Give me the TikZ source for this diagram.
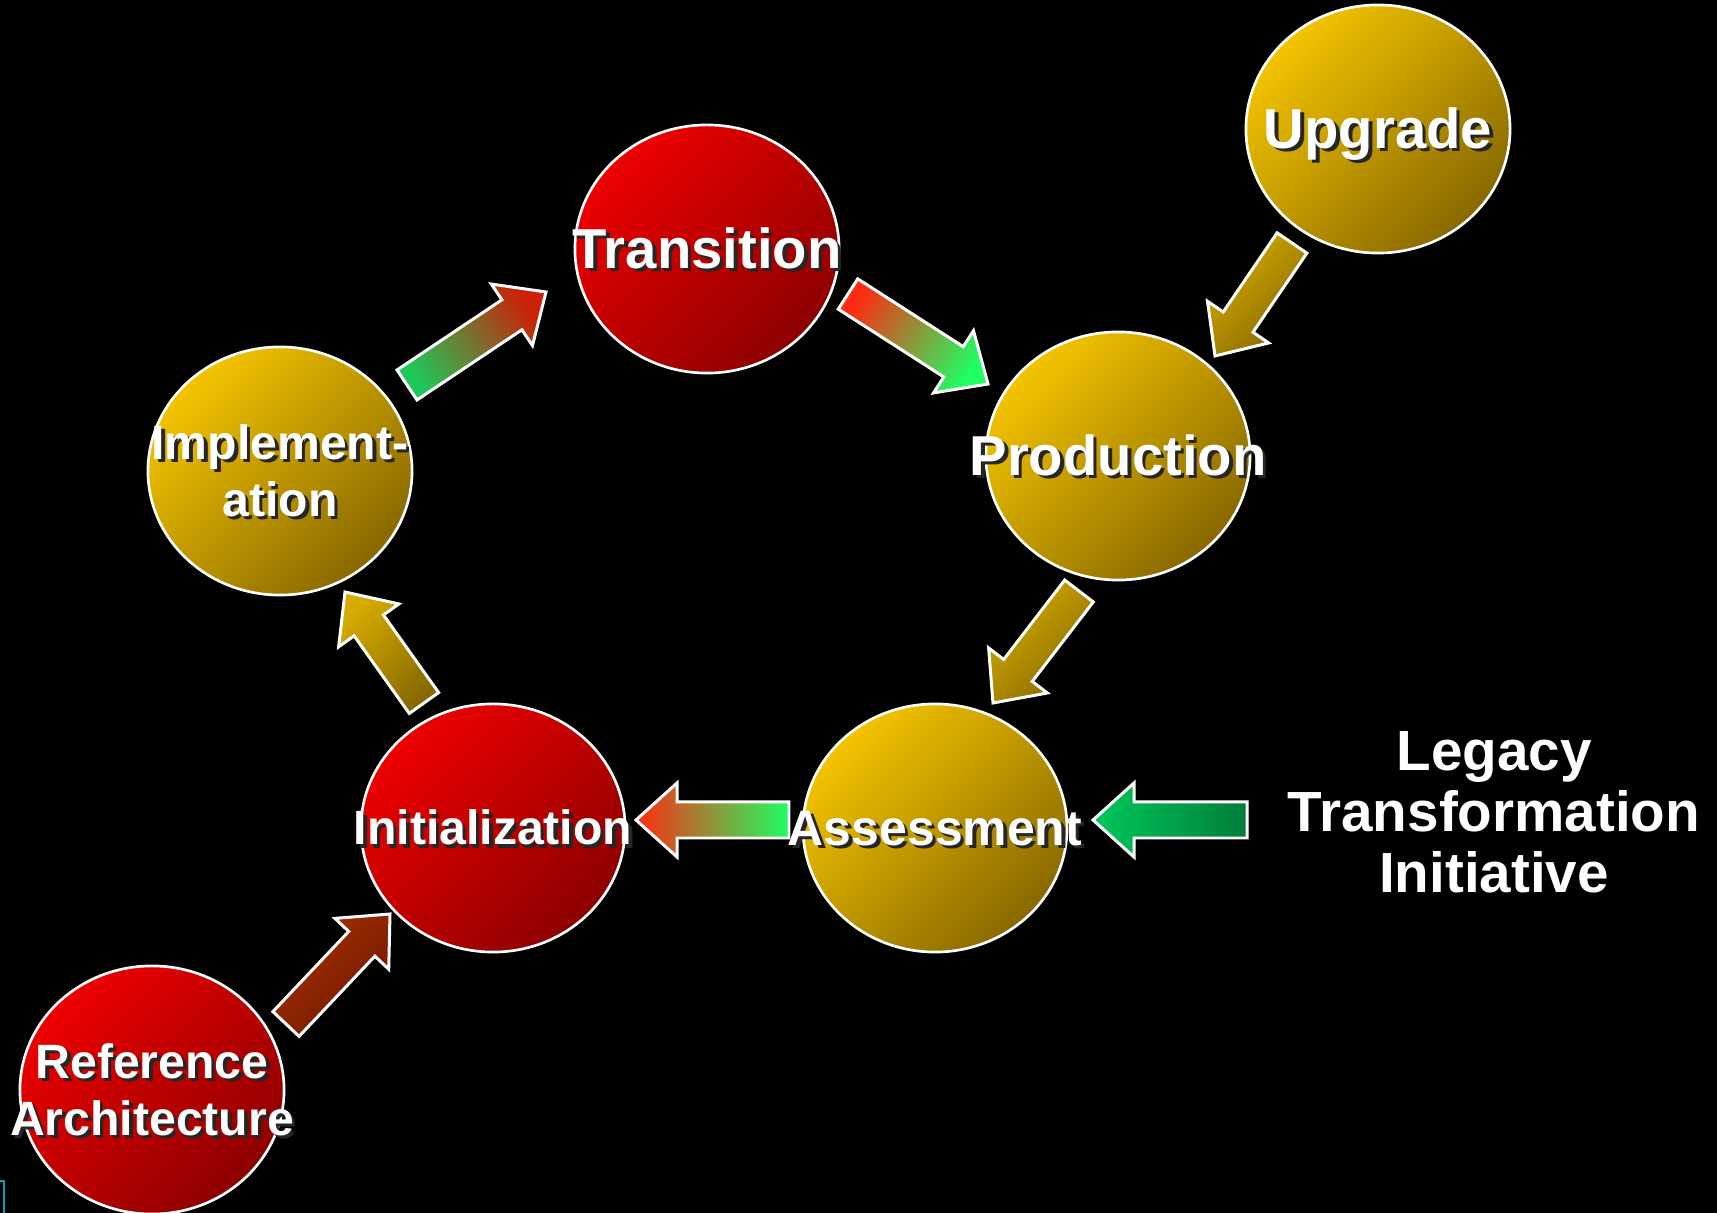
\documentclass[tikz,border=0pt]{standalone}
\usepackage{fontspec}
\setmainfont{Liberation Sans}
\usetikzlibrary{shapes.geometric,calc}
\definecolor{redlite}{HTML}{EE0000}
\definecolor{reddark}{HTML}{8C0000}
\definecolor{goldlite}{HTML}{F4C400}
\definecolor{golddark}{HTML}{886800}
\definecolor{arrred}{HTML}{FF2A12}
\definecolor{arrgreen}{HTML}{1EFF62}
\definecolor{impred}{HTML}{CC2008}
\definecolor{impgreen}{HTML}{1EC85A}
\definecolor{leggreen}{HTML}{00C85A}
\definecolor{legdark}{HTML}{007E3A}
\definecolor{goldarr}{HTML}{D6AC00}
\definecolor{goldarrdark}{HTML}{866800}
\definecolor{brownlite}{HTML}{A83200}
\definecolor{browndark}{HTML}{6E1600}
\newcommand\shtext[1]{\smash{\makebox[0pt]{\raisebox{-1pt}{\makebox[0pt]{\hspace*{2pt}\color{black!85}#1}}\makebox[0pt]{#1}}}\vphantom{I}}
\newcommand\blockarrow[3][]{\draw[blockarr,#1] ($(#2)!0.18cm!90:(#3)$) -- ($(#3)!0.41cm!(#2)!0.18cm!90:(#3)$) -- ($(#3)!0.41cm!(#2)!0.37cm!90:(#3)$) -- (#3) -- ($(#3)!0.41cm!(#2)!0.37cm!-90:(#3)$) -- ($(#3)!0.41cm!(#2)!0.18cm!-90:(#3)$) -- ($(#2)!0.18cm!-90:(#3)$) -- cycle;}
\tikzset{
  stage/.style={ellipse, draw=white, line width=0.75pt, minimum width=2.64cm, minimum height=2.48cm, inner sep=0pt, text=white, align=center, font=\bfseries\fontsize{16}{16.2}\selectfont},
  small/.style={font=\bfseries\fontsize{13.7}{16.2}\selectfont},
  redstage/.style={stage, top color=redlite, bottom color=reddark, shading angle=45},
  goldstage/.style={stage, top color=goldlite, bottom color=golddark, shading angle=45},
  blockarr/.style={draw=white, line width=0.85pt, line join=miter},
  goldblock/.style={top color=goldarr, bottom color=goldarrdark, shading angle=45},
  brownblock/.style={top color=brownlite, bottom color=browndark, shading angle=45}
}
\begin{document}
\begin{tikzpicture}[x=0.01cm, y=-0.01cm]
\fill[black] (0,0) rectangle (1717,1213);
\useasboundingbox (0,0) rectangle (1717,1213);
\draw[teal!70!cyan, line width=0.8pt] (-3,1181) rectangle (4,1220);
\coordinate (impT) at (407,385); \coordinate (impH) at (546,292);
\coordinate (traT) at (848,294); \coordinate (traH) at (988,384);
\coordinate (upgT) at (1292,243); \coordinate (upgH) at (1215,356);
\coordinate (proT) at (1079,591); \coordinate (proH) at (993,703);
\coordinate (assT) at (789,820); \coordinate (assH) at (636,820);
\coordinate (legT) at (1247,820); \coordinate (legH) at (1093,820);
\coordinate (iniT) at (424,703); \coordinate (iniH) at (345,592);
\coordinate (refT) at (286,1024); \coordinate (refH) at (390,914);
\blockarrow[top color=impred, bottom color=impgreen, shading angle=-56]{impT}{impH}
\blockarrow[top color=arrgreen, bottom color=arrred, shading angle=-123]{traT}{traH}
\blockarrow[goldblock]{upgT}{upgH}
\blockarrow[goldblock]{proT}{proH}
\blockarrow[top color=arrred, bottom color=arrgreen, shading angle=90]{assT}{assH}
\blockarrow[top color=leggreen, bottom color=legdark, shading angle=90]{legT}{legH}
\blockarrow[goldblock]{iniT}{iniH}
\blockarrow[brownblock]{refT}{refH}
\node[goldstage] (upgrade) at (1378,129) {\shtext{Upgrade}};
\node[redstage] (transition) at (707,249) {\shtext{Transition}};
\node[goldstage] (production) at (1118,456) {\shtext{Production}};
\node[goldstage, small] (implementation) at (280,471) {\shtext{Implement-}\\\shtext{ation}};
\node[redstage, small] (initialization) at (493,828) {\shtext{Initialization}};
\node[goldstage, small, font=\bfseries\fontsize{14.2}{16.2}\selectfont] (assessment) at (935,828) {\shtext{Assessment}};
\node[redstage, small] (reference) at (152,1090) {\shtext{Reference}\\\shtext{Architecture}};
\node[text=white, align=center, font=\bfseries\fontsize{16.1}{17.4}\selectfont] (legacy) at (1494,812) {Legacy\\Transformation\\Initiative};
\end{tikzpicture}
\end{document}
